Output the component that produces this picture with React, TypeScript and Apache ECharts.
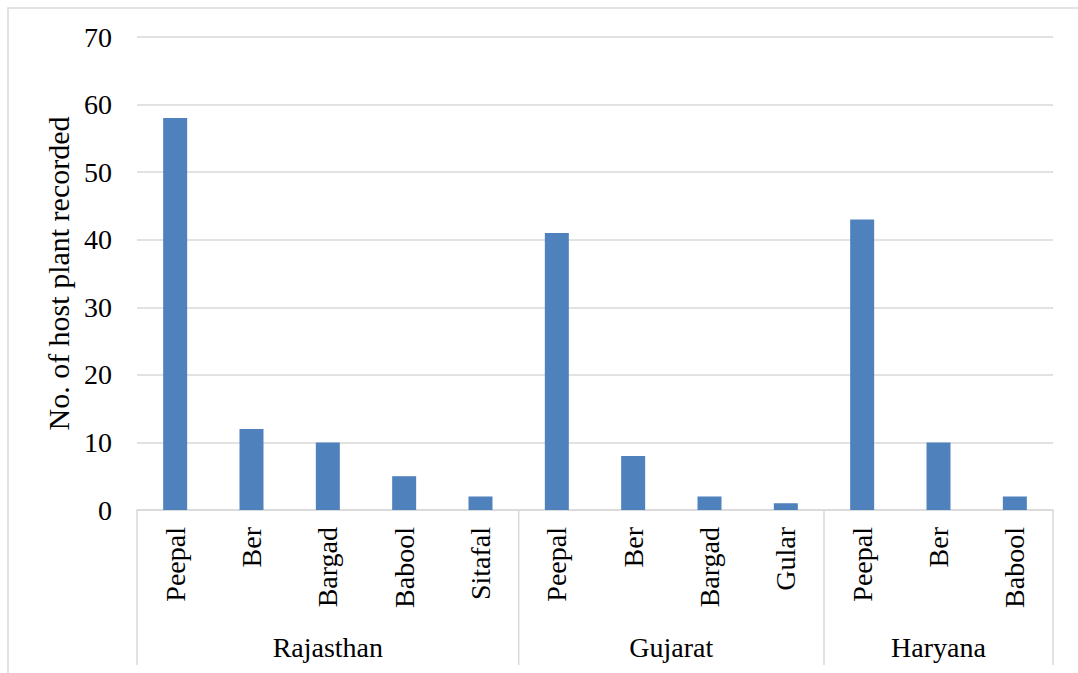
import React, { useEffect, useRef } from "react";
import * as echarts from "echarts";

const states = ["Rajasthan", "Gujarat", "Haryana"];
const plantsRajasthan = ["Peepal", "Ber", "Bargad", "Babool", "Sitafal"];
const plantsGujarat = ["Peepal", "Ber", "Bargad", "Gular"];
const plantsHaryana = ["Peepal", "Ber", "Babool"];
const valuesRajasthan = [58, 12, 10, 5, 2];
const valuesGujarat = [41, 8, 2, 1];
const valuesHaryana = [43, 10, 2];
const yTicks = [0, 10, 20, 30, 40, 50, 60, 70];
const yTitle = "No. of host plant recorded";

const FONT = "'Liberation Serif', 'Times New Roman', serif";

export default function App() {
  const ref = useRef<HTMLDivElement>(null);
  useEffect(() => {
    if (!ref.current) return;
    const chart = echarts.init(ref.current, null, { renderer: "svg" });
    const groups = [plantsRajasthan, plantsGujarat, plantsHaryana];
    const categories = [...plantsRajasthan, ...plantsGujarat, ...plantsHaryana];
    const values = [...valuesRajasthan, ...valuesGujarat, ...valuesHaryana];
    const gridTop = 37;
    const gridBottom = 163;
    const H = 673;
    chart.setOption({
      animation: false,
      grid: { left: 137, right: 25, top: gridTop, bottom: gridBottom, containLabel: false },
      xAxis: {
        type: "category",
        data: categories,
        axisLine: { show: true, lineStyle: { color: "#d9d9d9", width: 1.5 } },
        axisTick: { show: false },
        axisLabel: {
          rotate: 90,
          interval: 0,
          margin: 17,
          color: "#000",
          fontFamily: FONT,
          fontSize: 28,
        },
      },
      yAxis: {
        type: "value",
        min: yTicks[0],
        max: yTicks[yTicks.length - 1],
        interval: 10,
        name: yTitle,
        nameLocation: "middle",
        nameGap: 61,
        nameRotate: 90,
        nameTextStyle: { color: "#000", fontFamily: FONT, fontSize: 30 },
        axisLine: { show: false },
        axisTick: { show: false },
        axisLabel: { color: "#000", fontFamily: FONT, fontSize: 28, margin: 25 },
        splitLine: { lineStyle: { color: "#d9d9d9", width: 1.5 } },
      },
      series: [
        {
          type: "bar",
          data: values,
          barWidth: 24,
          itemStyle: { color: "#4f81bd" },
        },
      ],
    });

    const y0 = H - gridBottom;
    const yEnd = 665;
    const p0 = chart.convertToPixel({ xAxisIndex: 0 }, 0) as number;
    const p1 = chart.convertToPixel({ xAxisIndex: 0 }, 1) as number;
    const band = p1 - p0;
    const graphics: any[] = [
      {
        type: "rect",
        shape: { x: 8, y: 8, width: 1200, height: 800 },
        style: { fill: "none", stroke: "#d9d9d9", lineWidth: 1.5 },
        silent: true,
      },
    ];
    let idx = 0;
    const boundaries: number[] = [p0 - band / 2];
    groups.forEach((g, gi) => {
      const start = (chart.convertToPixel({ xAxisIndex: 0 }, idx) as number) - band / 2;
      const end = (chart.convertToPixel({ xAxisIndex: 0 }, idx + g.length - 1) as number) + band / 2;
      boundaries.push(end);
      graphics.push({
        type: "text",
        x: (start + end) / 2,
        y: 647,
        style: {
          text: states[gi],
          fontFamily: FONT,
          fontSize: 28,
          fill: "#000",
          align: "center",
          verticalAlign: "middle",
        },
      });
      idx += g.length;
    });
    boundaries.forEach((bx) => {
      graphics.push({
        type: "line",
        shape: { x1: bx, y1: y0, x2: bx, y2: yEnd },
        style: { stroke: "#d9d9d9", lineWidth: 1.5 },
        silent: true,
      });
    });
    chart.setOption({ graphic: graphics });
    return () => chart.dispose();
  }, []);
  return <div ref={ref} style={{ width: 1078, height: 673, position: "absolute", left: 0, top: 0 }} />;
}
